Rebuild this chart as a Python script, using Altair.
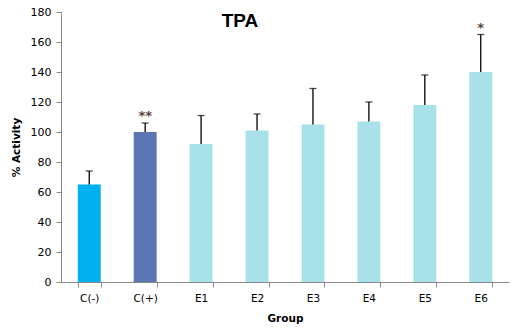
import altair as alt
import pandas as pd

groups = ["C(-)", "C(+)", "E1", "E2", "E3", "E4", "E5", "E6"]
values = [65, 100, 92, 101, 105, 107, 118, 140]
errors = [9, 6, 19, 11, 24, 13, 20, 25]
stars = ["", "**", "", "", "", "", "", "*"]
colors = ["#00B0F0", "#5A74B4", "#A9E1EB", "#A9E1EB", "#A9E1EB", "#A9E1EB", "#A9E1EB", "#A9E1EB"]
y_ticks = [0, 20, 40, 60, 80, 100, 120, 140, 160, 180]

df = pd.DataFrame({
    "Group": groups,
    "value": values,
    "upper": [v + e for v, e in zip(values, errors)],
    "star": stars,
    "color": colors,
})

FONT = "DejaVu Sans"

x = alt.X("Group:N", sort=groups, title="Group",
          scale=alt.Scale(paddingInner=0.59, paddingOuter=0.3),
          axis=alt.Axis(labelAngle=0, tickBand="extent", domainColor="#888888",
                        tickColor="#888888", labelFont=FONT, labelFontSize=10.5,
                        labelColor="black", titleFont=FONT, titleFontSize=10.5,
                        titleFontWeight="bold", titleColor="black", titlePadding=10,
                        labelPadding=6, tickSize=5))
y_scale = alt.Scale(domain=[0, 180])
y_axis = alt.Axis(values=y_ticks, grid=False, domainColor="#888888",
                  tickColor="#888888", labelFont=FONT, labelFontSize=11,
                  labelColor="black", titleFont=FONT, titleFontSize=10.5,
                  titleFontWeight="bold", titleColor="black", titlePadding=9,
                  tickSize=5, labelPadding=5, labelOverlap=False)


def yenc(field):
    return alt.Y(field, scale=y_scale, axis=y_axis, title="% Activity")


base = alt.Chart(df)

bars = base.mark_bar().encode(
    x=x,
    y=yenc("value:Q"),
    color=alt.Color("color:N", scale=None),
)
rules = base.mark_rule(color="black", strokeWidth=1.3).encode(
    x=x, y=yenc("value:Q"), y2="upper:Q")
caps = base.mark_tick(color="black", size=7, thickness=1.3).encode(
    x=x, y=yenc("upper:Q"))
star_text = base.mark_text(color="#1F3563", fontSize=13, fontWeight="bold",
                           font=FONT, dy=-3, baseline="alphabetic", stroke="#E0A040",
                           strokeWidth=0.2).encode(
    x=x, y=yenc("upper:Q"), text="star:N")
title = alt.Chart(pd.DataFrame({"t": ["TPA"]})).mark_text(
    fontSize=19, fontWeight="bold", font="Liberation Sans", color="black").encode(
    x=alt.value(179), y=alt.value(9), text="t:N")

chart = alt.layer(bars, rules, caps, star_text, title).properties(
    width=448, height=270,
    background="white",
    autosize=alt.AutoSizeParams(type="none"),
    padding={"left": 61, "top": 12, "right": 10, "bottom": 52},
).configure_view(stroke=None)

chart.save("out.html", embed_options={"renderer": "svg", "actions": False})
